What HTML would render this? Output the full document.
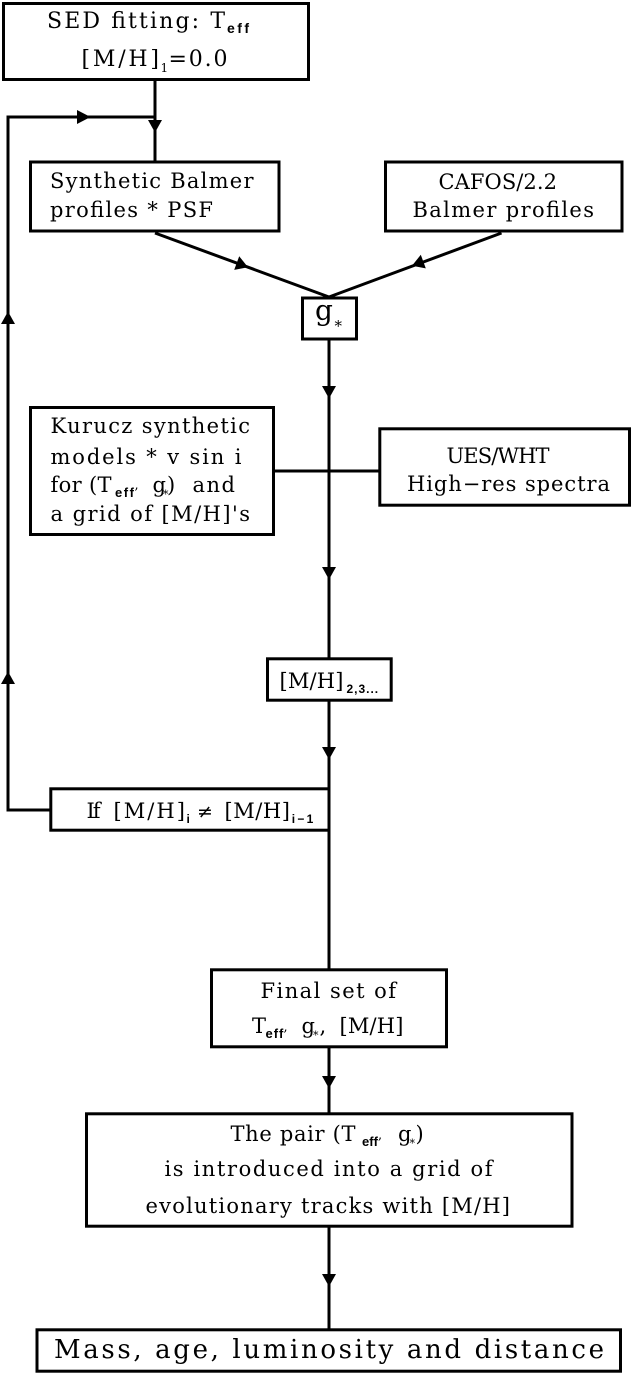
<!DOCTYPE html>
<html>
<head>
<meta charset="utf-8">
<style>
  html, body { margin: 0; padding: 0; background: #fff; }
  svg { display: block; }
  .t { font-family: "DejaVu Serif", "Liberation Serif", serif; fill: #000; }
  .s { font-family: "Liberation Sans", "DejaVu Sans", sans-serif; font-weight: bold; fill: #000; }
</style>
</head>
<body>
<svg width="632" height="1374" viewBox="0 0 632 1374" xmlns="http://www.w3.org/2000/svg">
  <rect x="0" y="0" width="632" height="1374" fill="#fff"/>

  <!-- connectors -->
  <g stroke="#000" stroke-width="3" fill="none">
    <line x1="329" y1="297" x2="329" y2="1330"/>
    <line x1="155" y1="80" x2="155" y2="162"/>
    <polyline points="155,117 8,117 8,810 51,810"/>
    <line x1="155" y1="233" x2="329" y2="297"/>
    <line x1="501.5" y1="233" x2="329" y2="297"/>
    <line x1="274" y1="471" x2="380" y2="471"/>
  </g>

  <!-- boxes -->
  <g stroke="#000" stroke-width="3" fill="#fff">
    <rect x="3.5" y="3.5" width="305" height="76"/>
    <rect x="30.5" y="162" width="248.5" height="69"/>
    <rect x="385.5" y="162" width="236.5" height="69"/>
    <rect x="302.5" y="298" width="54" height="41"/>
    <rect x="30.5" y="407.5" width="243" height="127"/>
    <rect x="379.8" y="428.8" width="249.7" height="76.4"/>
    <rect x="267.5" y="658.8" width="123.7" height="41.4"/>
    <rect x="50.8" y="788.8" width="278.2" height="41.4"/>
    <rect x="211.5" y="969.8" width="235" height="77"/>
    <rect x="86.5" y="1113.8" width="485.5" height="112.4"/>
    <rect x="37" y="1329.8" width="583.5" height="41.4"/>
  </g>

  <!-- arrowheads -->
  <g fill="#000" stroke="none">
    <polygon points="148,120 162,120 155,132.5"/>
    <polygon points="77,110 77,124 90.5,117"/>
    <polygon points="1,324 15,324 8,311.5"/>
    <polygon points="1,684 15,684 8,671.5"/>
    <polygon points="248,267.2 234.2,269.9 239.2,256.3"/>
    <polygon points="412,265.7 420.8,254.8 425.8,268.4"/>
    <polygon points="322,386 336,386 329,398.5"/>
    <polygon points="322,567 336,567 329,579.5"/>
    <polygon points="322,747 336,747 329,759.5"/>
    <polygon points="322,1076 336,1076 329,1088.5"/>
    <polygon points="322,1274 336,1274 329,1286.5"/>
  </g>

  <!-- Top box -->
  <text class="t" x="47" y="28" font-size="22" textLength="178" lengthAdjust="spacing">SED fitting: T</text>
  <text class="s" x="227" y="33" font-size="14" textLength="22" lengthAdjust="spacing">eff</text>
  <text class="t" x="81.5" y="66" font-size="22" textLength="77.5" lengthAdjust="spacing">[M/H]</text>
  <text class="t" x="160.5" y="72" font-size="12">1</text>
  <text class="t" x="168.5" y="66" font-size="22" textLength="59" lengthAdjust="spacing">=0.0</text>

  <!-- Synthetic -->
  <text class="t" x="50" y="188" font-size="21" textLength="203.5" lengthAdjust="spacing">Synthetic Balmer</text>
  <text class="t" x="50" y="217" font-size="21" textLength="163" lengthAdjust="spacing">profiles * PSF</text>

  <!-- CAFOS -->
  <text class="t" x="438.5" y="189" font-size="21" textLength="118.5" lengthAdjust="spacing">CAFOS/2.2</text>
  <text class="t" x="412.5" y="217" font-size="21" textLength="181.5" lengthAdjust="spacing">Balmer profiles</text>

  <!-- g* -->
  <text class="t" x="315" y="320" font-size="28">g</text>
  <text class="t" x="334.5" y="331" font-size="15">*</text>

  <!-- Kurucz -->
  <text class="t" x="50.5" y="433" font-size="21" textLength="199.5" lengthAdjust="spacing">Kurucz synthetic</text>
  <text class="t" x="50.5" y="464" font-size="21" textLength="191" lengthAdjust="spacing">models * v sin i</text>
  <text class="t" x="50.5" y="492" font-size="21" textLength="61" lengthAdjust="spacing">for (T</text>
  <text class="s" x="115" y="497" font-size="13" textLength="19" lengthAdjust="spacing">eff</text>
  <text class="t" x="134.5" y="489" font-size="13">,</text>
  <text class="t" x="152.5" y="492" font-size="21">g</text>
  <text class="t" x="163" y="498" font-size="11">*</text>
  <text class="t" x="167" y="492" font-size="21">)</text>
  <text class="t" x="192.5" y="492" font-size="21" textLength="42.5" lengthAdjust="spacing">and</text>
  <text class="t" x="50.5" y="521" font-size="21" textLength="199.5" lengthAdjust="spacing">a grid of [M/H]'s</text>

  <!-- UES -->
  <text class="t" x="446.5" y="463" font-size="21" textLength="103" lengthAdjust="spacing">UES/WHT</text>
  <text class="t" x="407" y="491" font-size="21" textLength="203" lengthAdjust="spacing">High−res spectra</text>

  <!-- [M/H]2,3... -->
  <text class="t" x="279.5" y="688" font-size="21" textLength="64" lengthAdjust="spacing">[M/H]</text>
  <text class="s" x="346.5" y="693" font-size="12" textLength="31.6" lengthAdjust="spacing">2,3...</text>

  <!-- If box -->
  <text class="t" x="86.5" y="818" font-size="21" textLength="14" lengthAdjust="spacing">If</text>
  <text class="t" x="113.5" y="818" font-size="21" textLength="71.5" lengthAdjust="spacing">[M/H]</text>
  <text class="s" x="186.5" y="823" font-size="12">i</text>
  <text class="t" x="197" y="818" font-size="19">≠</text>
  <text class="t" x="224.5" y="818" font-size="21" textLength="65.5" lengthAdjust="spacing">[M/H]</text>
  <text class="s" x="291.7" y="823" font-size="12" textLength="21.6" lengthAdjust="spacing">i−1</text>

  <!-- Final set -->
  <text class="t" x="260.5" y="998" font-size="21" textLength="135.5" lengthAdjust="spacing">Final set of</text>
  <text class="t" x="252" y="1033" font-size="21">T</text>
  <text class="s" x="265.5" y="1038" font-size="13" textLength="17.9" lengthAdjust="spacing">eff</text>
  <text class="t" x="283.5" y="1031" font-size="13">,</text>
  <text class="t" x="301.5" y="1033" font-size="21">g</text>
  <text class="t" x="313" y="1039" font-size="11">*</text>
  <text class="t" x="319.5" y="1033" font-size="21">,</text>
  <text class="t" x="339.5" y="1033" font-size="21" textLength="64" lengthAdjust="spacing">[M/H]</text>

  <!-- The pair -->
  <text class="t" x="230.5" y="1141" font-size="21" textLength="125" lengthAdjust="spacing">The pair (T</text>
  <text class="s" x="362" y="1146" font-size="13" textLength="16" lengthAdjust="spacing">eff</text>
  <text class="t" x="378" y="1139" font-size="13">,</text>
  <text class="t" x="398" y="1141" font-size="21">g</text>
  <text class="t" x="409.5" y="1147" font-size="11">*</text>
  <text class="t" x="415.5" y="1141" font-size="21">)</text>
  <text class="t" x="164.5" y="1176" font-size="21" textLength="328" lengthAdjust="spacing">is introduced into a grid of</text>
  <text class="t" x="145.5" y="1213" font-size="21" textLength="364.5" lengthAdjust="spacing">evolutionary tracks with [M/H]</text>

  <!-- Mass -->
  <text class="t" x="54" y="1358" font-size="26" textLength="550" lengthAdjust="spacing">Mass, age, luminosity and distance</text>
</svg>
</body>
</html>
